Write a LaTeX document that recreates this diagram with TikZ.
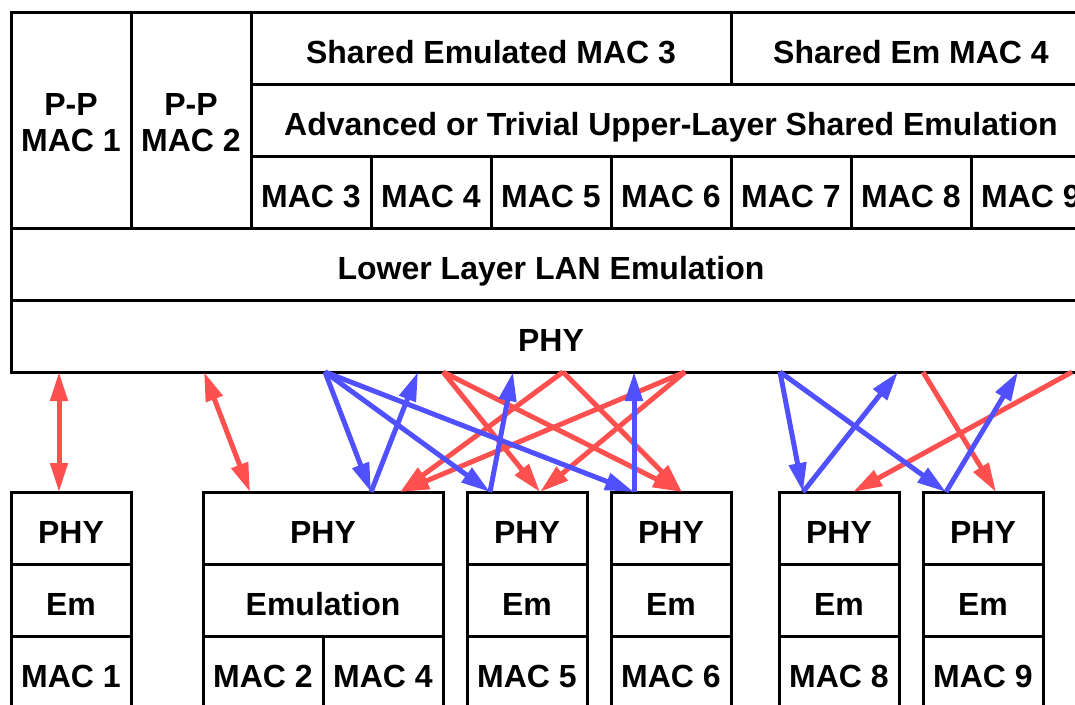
\documentclass[tikz,border=0pt]{standalone}
\usepackage{fontspec}
\setmainfont{Liberation Sans}
\usetikzlibrary{arrows.meta}
\definecolor{linkred}{RGB}{255,80,80}
\definecolor{linkblue}{RGB}{80,80,255}
\begin{document}
\begin{tikzpicture}[x=1pt,y=-1pt,
  frame/.style={draw, line width=3pt, inner sep=0pt, outer sep=0pt},
  cell/.style={frame, font=\fontsize{32}{36}\selectfont\bfseries,
    text height=31pt, text depth=0pt},
  twoline/.style={inner sep=0pt, font=\fontsize{32}{36}\selectfont\bfseries,
    align=center, yshift=-3pt},
  sz/.style 2 args={minimum width=#1pt, minimum height=#2pt},
  tip/.tip={Triangle[length=29pt,width=17pt]},
  redlink/.style={draw=linkred, line width=5pt, -tip},
  bluelink/.style={draw=linkblue, line width=5pt, -tip},
  redboth/.style={draw=linkred, line width=5pt, tip-tip}]
\useasboundingbox (0,0) rectangle (1075,704);
\clip (0,0) rectangle (1075,704);

% ---- shared station stack ----
\node[frame, sz={120}{216}] (pp1) at (71,120) {};
\node[twoline] (pp1text) at (pp1) {P-P\\MAC 1};
\node[frame, sz={120}{216}] (pp2) at (191,120) {};
\node[twoline] (pp2text) at (pp2) {P-P\\MAC 2};
\node[cell, sz={480}{72}] (sem3) at (491,48) {Shared Emulated MAC 3};
\node[cell, sz={360}{72}] (sem4) at (911,48) {Shared Em MAC 4};
\node[cell, sz={840}{72}] (upper) at (671,120) {Advanced or Trivial Upper-Layer Shared Emulation};
\foreach \i [count=\k from 0] in {3,...,9}
  \node[cell, sz={120}{72}] (mac\i) at (311+120*\k,192) {MAC \i};
\node[cell, sz={1080}{72}] (lower) at (551,264) {Lower Layer LAN Emulation};
\node[cell, sz={1080}{72}] (phy) at (551,336) {PHY};

% ---- end stations ----
% station 1
\node[cell, sz={120}{72}] (s1phy) at (71,528) {PHY};
\node[cell, sz={120}{72}] (s1em)  at (71,600) {Em};
\node[cell, sz={120}{72}] (s1mac) at (71,672) {MAC 1};
% station 2
\node[cell, sz={240}{72}] (s2phy) at (323,528) {PHY};
\node[cell, sz={240}{72}] (s2em)  at (323,600) {Emulation};
\node[cell, sz={120}{72}] (s2maca) at (263,672) {MAC 2};
\node[cell, sz={120}{72}] (s2macb) at (383,672) {MAC 4};
% stations 3 to 6
\foreach \n/\cx/\m in {3/527/5, 4/671/6, 5/839/8, 6/983/9} {
  \node[cell, sz={120}{72}] (s\n phy) at (\cx,528) {PHY};
  \node[cell, sz={120}{72}] (s\n em)  at (\cx,600) {Em};
  \node[cell, sz={120}{72}] (s\n mac) at (\cx,672) {MAC \m};
}

% ---- link end points ----
\foreach \name/\x in {tA/59, tB/204, tC/325, tD/418, tE/443, tF/513, tG/563,
    tH/634, tI/685, tJ/780, tK/898, tL/923, tM/1018, tN/1072}
  \coordinate (\name) at (\x,372);
\foreach \name/\x in {bA/59, bB/250, bC/371, bD/400, bE/490, bF/540, bG/634,
    bH/682, bI/803, bJ/853, bK/946, bL/996}
  \coordinate (\name) at (\x,492);

% point-to-point links
\draw[redboth] (tA) -- (bA);
\draw[redboth] (tB) -- (bB);

% red links of the shared MAC 4
\draw[redlink] (tE) -- (bF);
\draw[redlink] (tE) -- (bH);
\draw[redlink] (tG) -- (bD);
\draw[redlink] (tG) -- (bH);
\draw[redlink] (tI) -- (bD);
\draw[redlink] (tI) -- (bF);
\draw[redlink] (tL) -- (bL);
\draw[redlink] (tN) -- (bJ);

% blue links of the shared MAC 3
\draw[bluelink] (tC) -- (bC);
\draw[bluelink] (tC) -- (bE);
\draw[bluelink] (tC) -- (bG);
\draw[bluelink] (bC) -- (tD);
\draw[bluelink] (bE) -- (tF);
\draw[bluelink] (bG) -- (tH);
\draw[bluelink] (tJ) -- (bI);
\draw[bluelink] (tJ) -- (bK);
\draw[bluelink] (bI) -- (tK);
\draw[bluelink] (bK) -- (tM);
\end{tikzpicture}
\end{document}
